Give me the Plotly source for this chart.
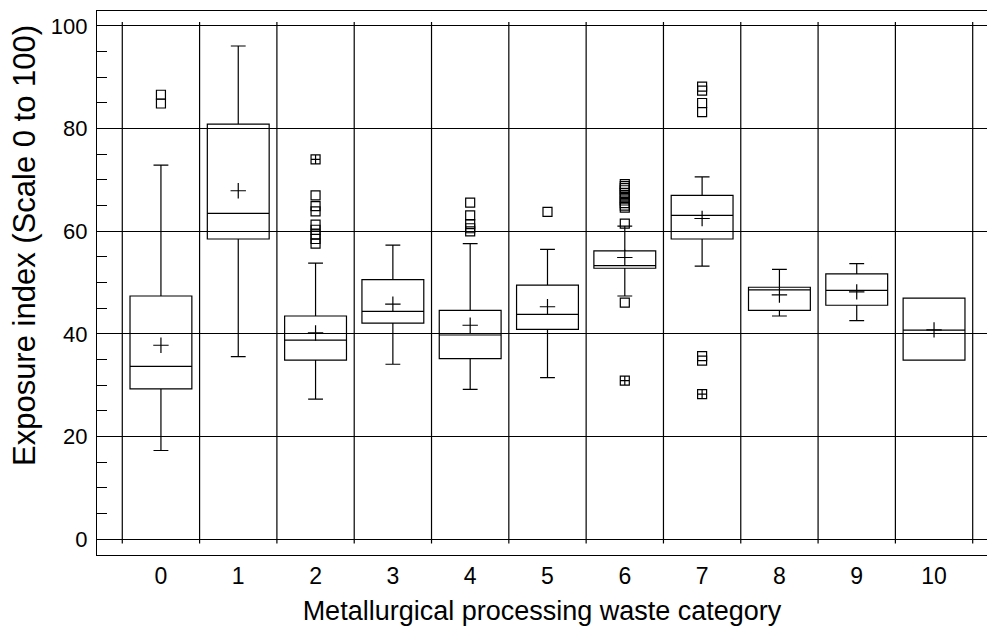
import plotly.graph_objects as go

# ---- data ----
categories = [0, 1, 2, 3, 4, 5, 6, 7, 8, 9, 10]
lower_whisker = [17.3, 35.6, 27.3, 34.1, 29.2, 31.5, 47.4, 53.2, 43.5, 42.6, 34.9]
q1_values = [29.3, 58.5, 34.9, 42.1, 35.2, 40.9, 52.8, 58.5, 44.6, 45.6, 34.9]
median_values = [33.7, 63.5, 38.8, 44.4, 39.8, 43.8, 53.3, 63.1, 48.6, 48.5, 40.75]
q3_values = [47.4, 80.9, 43.5, 50.6, 44.6, 49.5, 56.2, 67.0, 49.1, 51.7, 47.0]
upper_whisker = [72.9, 96.1, 53.8, 57.3, 57.6, 56.5, 61.0, 70.6, 52.6, 53.7, 47.0]
mean_values = [37.8, 67.9, 40.2, 45.8, 41.7, 45.3, 54.9, 62.5, 47.6, 48.2, 40.8]

# outliers (open squares)
outlier_cat = [0, 0,
               2, 2, 2, 2, 2, 2, 2, 2,
               4, 4, 4, 4, 4,
               5,
               6, 6, 6, 6, 6, 6, 6, 6, 6, 6, 6, 6, 6,
               7, 7, 7, 7, 7, 7]
outlier_val = [86.6, 84.9,
               67.0, 64.9, 63.9, 61.3, 60.3, 59.4, 58.5, 57.6,
               65.6, 63.1, 61.4, 60.6, 60.0,
               63.8,
               69.2, 68.8, 68.4, 68.0, 67.5, 67.0, 66.5, 66.0, 65.5, 65.0, 64.6, 61.5, 46.1,
               88.2, 87.4, 85.0, 83.2, 35.7, 34.8]
# far outliers (crossed squares)
far_cat = [2, 6, 7]
far_val = [74.0, 30.9, 28.3]

cell_edges = [-0.5, 0.5, 1.5, 2.5, 3.5, 4.5, 5.5, 6.5, 7.5, 8.5, 9.5, 10.5]
y_ticks = [0, 20, 40, 60, 80, 100]

x_title = "Metallurgical processing waste category"
y_title = "Exposure index (Scale 0 to 100)"

FONT = "Liberation Sans, Arial, sans-serif"

fig = go.Figure()

fig.add_trace(go.Box(
    x=categories,
    q1=q1_values, median=median_values, q3=q3_values,
    lowerfence=lower_whisker, upperfence=upper_whisker,
    width=0.8, whiskerwidth=0.24,
    fillcolor="rgba(0,0,0,0)",
    line=dict(color="black", width=1.2),
    boxpoints=False,
    showlegend=False,
))

fig.add_trace(go.Scatter(
    x=categories, y=mean_values, mode="markers",
    marker=dict(symbol="cross-thin-open", size=11, color="black",
                line=dict(color="black", width=1.2)),
    showlegend=False,
))

fig.add_trace(go.Scatter(
    x=outlier_cat, y=outlier_val, mode="markers",
    marker=dict(symbol="square-open", size=9, color="black",
                line=dict(color="black", width=1.2)),
    showlegend=False,
))

fig.add_trace(go.Scatter(
    x=far_cat, y=far_val, mode="markers",
    marker=dict(symbol="square-cross-open", size=9, color="black",
                line=dict(color="black", width=1.2)),
    showlegend=False,
))

for e in cell_edges:
    fig.add_shape(type="line", xref="x", yref="y", x0=e, x1=e, y0=-0.8, y1=100.8,
                  line=dict(color="black", width=1.2), layer="below")

fig.update_layout(
    width=987, height=635,
    margin=dict(l=97, r=0, t=11, b=80),
    paper_bgcolor="white", plot_bgcolor="white",
    font=dict(family=FONT, color="black", size=22),
)

fig.add_annotation(
    text=y_title, textangle=-90, showarrow=False,
    xref="paper", yref="paper", x=-0.082, y=0.568,
    xanchor="center", yanchor="middle",
    font=dict(size=31, family=FONT, color="black"),
)

fig.update_xaxes(
    range=[-0.827, 10.685],
    tickmode="array", tickvals=categories, ticktext=[str(c) for c in categories],
    showgrid=False, zeroline=False,
    showline=True, linecolor="black", linewidth=1.2, mirror=True,
    ticks="", tickfont=dict(size=23),
    title=dict(text=x_title, font=dict(size=27), standoff=13),
)

fig.update_yaxes(
    range=[-3.06, 102.92],
    tickmode="array", tickvals=y_ticks,
    showgrid=True, gridcolor="black", gridwidth=1.2, zeroline=False,
    showline=True, linecolor="black", linewidth=1.2, mirror=False,
    ticks="inside", ticklen=10, tickcolor="black", tickwidth=1.2,
    minor=dict(dtick=5, tick0=0, ticks="inside", ticklen=10, tickcolor="black",
               tickwidth=1.2, showgrid=False),
    tickfont=dict(size=22), ticklabelstandoff=4,
)

fig.write_html("out.html")
